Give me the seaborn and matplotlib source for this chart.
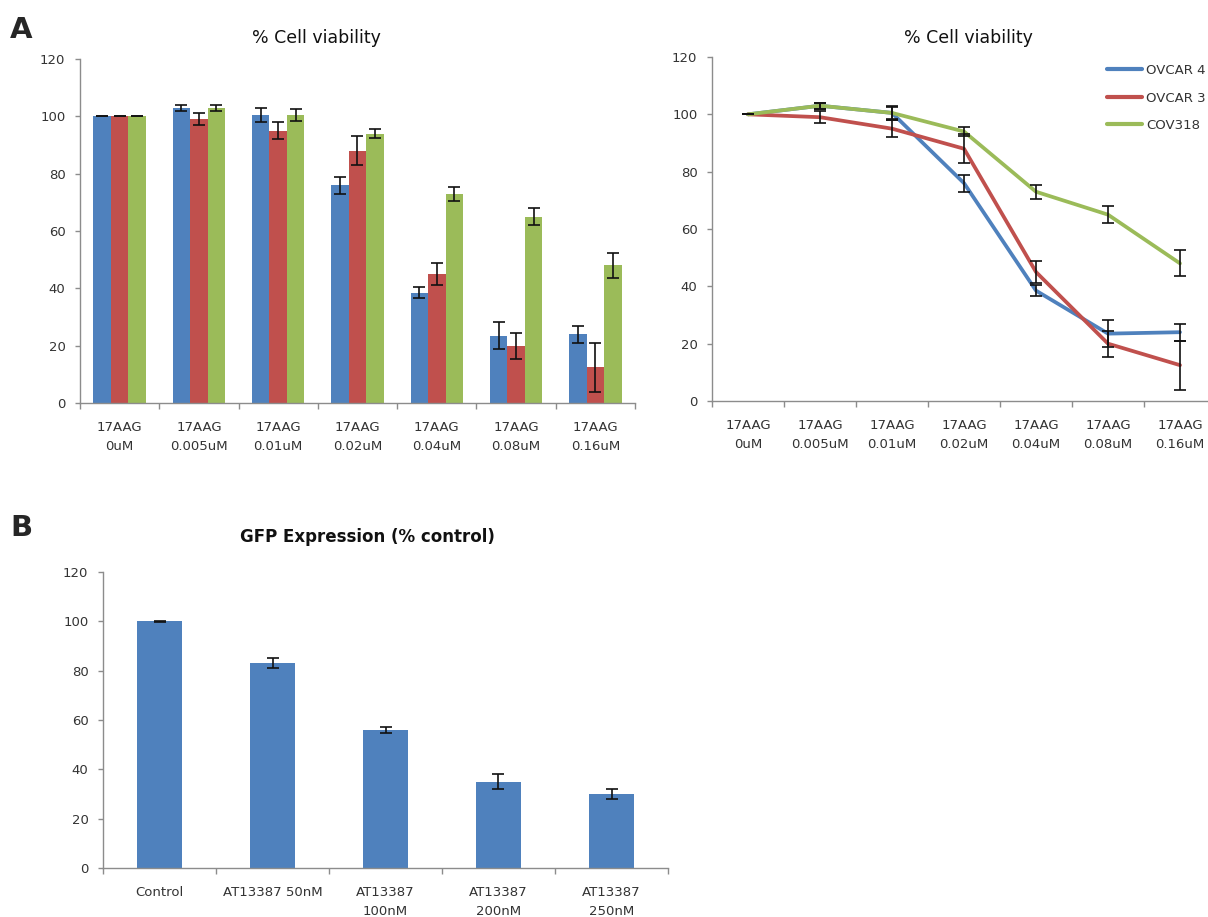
import numpy as np
import pandas as pd
import matplotlib
matplotlib.use("Agg")
import matplotlib.pyplot as plt
import seaborn as sns
from matplotlib.lines import Line2D

# ---------------- data ----------------
doses = ["17AAG\n0uM", "17AAG\n0.005uM", "17AAG\n0.01uM", "17AAG\n0.02uM",
         "17AAG\n0.04uM", "17AAG\n0.08uM", "17AAG\n0.16uM"]
cell_lines = ["OVCAR 4", "OVCAR 3", "COV318"]
ovcar4 = [100, 103, 100.5, 76, 38.5, 23.5, 24]
ovcar4_err = [0, 1, 2.5, 3, 1.8, 4.8, 3]
ovcar3 = [100, 99, 95, 88, 45, 20, 12.5]
ovcar3_err = [0, 2, 3, 5, 4, 4.5, 8.5]
cov318 = [100, 103, 100.5, 94, 73, 65, 48]
cov318_err = [0, 1, 2, 1.5, 2.5, 3, 4.5]

gfp_labels = ["Control", "AT13387 50nM", "AT13387\n100nM", "AT13387\n200nM", "AT13387\n250nM"]
gfp_values = [100, 83, 56, 35, 30]
gfp_err = [0.2, 2, 1.2, 3, 2]

colors = ["#4F81BD", "#C0504D", "#9BBB59"]
yticks = [0, 20, 40, 60, 80, 100, 120]

# ---------------- style ----------------
sns.set_style("white")
plt.rcParams['font.family'] = ['DejaVu Sans']
TICK_C = "#333333"
SPINE_C = "#8c8c8c"
TICK_FS = 9.5
W, H = 1208, 917

series_vals = [ovcar4, ovcar3, cov318]
series_err = [ovcar4_err, ovcar3_err, cov318_err]
df = pd.DataFrame({
    "dose": doses * 3,
    "line": sum([[c] * len(doses) for c in cell_lines], []),
    "value": sum(series_vals, []),
    "err": sum(series_err, []),
})

fig = plt.figure(figsize=(W / 100, H / 100), dpi=100)


def px_axes(x0, x1, y_top, y_bot):
    return fig.add_axes([x0 / W, 1 - y_bot / H, (x1 - x0) / W, (y_bot - y_top) / H])


def style_axis(ax, n, labels):
    ax.set_ylim(0, 120)
    ax.set_yticks(yticks)
    ax.set_xlim(-0.5, n - 0.5)
    for s in ["top", "right"]:
        ax.spines[s].set_visible(False)
    for s in ["left", "bottom"]:
        ax.spines[s].set_color(SPINE_C)
        ax.spines[s].set_linewidth(1.0)
    ax.tick_params(axis="y", direction="out", length=3.5, width=1, color=SPINE_C,
                   labelsize=TICK_FS, labelcolor=TICK_C, pad=7, left=True)
    ax.set_xticks(np.arange(n), minor=False)
    ax.set_xticks(np.arange(n + 1) - 0.5, minor=True)
    ax.tick_params(axis="x", which="major", length=0, labelsize=TICK_FS,
                   labelcolor=TICK_C, pad=13)
    ax.tick_params(axis="x", which="minor", direction="out", length=4.5, width=1,
                   color=SPINE_C, bottom=True)
    ax.set_xticklabels(labels, linespacing=1.55, va="top")
    ax.set_xlabel("")
    ax.set_ylabel("")


def add_errorbars(ax, cont, errs):
    xs = [p.get_x() + p.get_width() / 2 for p in cont.patches]
    hs = [p.get_height() for p in cont.patches]
    ax.errorbar(xs, hs, yerr=errs, fmt="none", ecolor="#111111",
                elinewidth=1.2, capsize=4.5, capthick=1.2, zorder=5)


# ---------------- A: bar chart ----------------
ax1 = px_axes(80, 635, 59, 403)
sns.barplot(data=df, x="dose", y="value", hue="line", hue_order=cell_lines,
            palette=colors, width=0.66, errorbar=None, saturation=1,
            legend=False, ax=ax1, linewidth=0)
for cont, errs in zip(ax1.containers, series_err):
    add_errorbars(ax1, cont, errs)
style_axis(ax1, len(doses), doses)
fig.text(316 / W, 1 - 38 / H, "% Cell viability", fontsize=12.5,
         color="#111111", ha="center", va="center")

# ---------------- A: line chart ----------------
ax2 = px_axes(712, 1216, 57, 401)
sns.lineplot(data=df, x="dose", y="value", hue="line", hue_order=cell_lines,
             palette=colors, linewidth=2.7, sort=False, legend=False, ax=ax2)
pos = np.arange(len(doses))
for vals, errs in zip(series_vals, series_err):
    ax2.errorbar(pos, vals, yerr=errs, fmt="none", ecolor="#111111",
                 elinewidth=1.2, capsize=4.5, capthick=1.2, zorder=5)
style_axis(ax2, len(doses), doses)
fig.text(968 / W, 1 - 38 / H, "% Cell viability", fontsize=12.5,
         color="#111111", ha="center", va="center")
handles = [Line2D([0], [0], color=c, lw=3) for c in colors]
ax2.legend(handles, cell_lines, loc="upper left",
           bbox_to_anchor=(1107 / W, 1 - 64 / H), bbox_transform=fig.transFigure,
           frameon=False, fontsize=TICK_FS, handlelength=2.65, handletextpad=0.3,
           labelspacing=1.1, labelcolor=TICK_C, borderaxespad=0, borderpad=0)

# ---------------- B: GFP bar chart ----------------
ax3 = px_axes(103, 668, 572, 868)
df_b = pd.DataFrame({"cond": gfp_labels, "value": gfp_values, "err": gfp_err})
sns.barplot(data=df_b, x="cond", y="value", color=colors[0], width=0.40,
            errorbar=None, saturation=1, ax=ax3, linewidth=0)
add_errorbars(ax3, ax3.containers[0], gfp_err)
style_axis(ax3, len(gfp_labels), gfp_labels)
fig.text(367 / W, 1 - 537 / H, "GFP Expression (% control)", fontsize=12,
         fontweight="bold", color="#111111", ha="center", va="center")

# panel letters
fig.text(10 / W, 1 - 30 / H, "A", fontsize=21, fontweight="bold", va="center")
fig.text(10 / W, 1 - 528 / H, "B", fontsize=21, fontweight="bold", va="center")

fig.savefig("out.png", dpi=100, facecolor="white")
